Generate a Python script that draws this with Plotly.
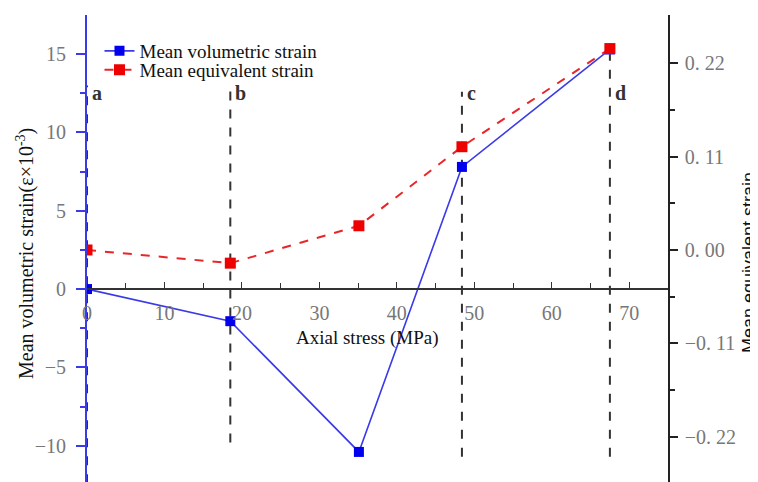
import plotly.graph_objects as go

# ---- data ----
axial_stress = [0, 18.5, 35.1, 48.4, 67.5]
mean_volumetric_strain = [0.0, -2.05, -10.4, 7.8, 15.3]
mean_equivalent_strain = [0.0, -0.0155, 0.0285, 0.1215, 0.237]

stage_labels = ["a", "b", "c", "d"]
stage_x = [0, 18.5, 48.4, 67.5]
stage_top = [13.0, 13.0, 12.6, 15.0]
stage_bottom = [-12.4, -9.8, -10.7, -10.7]
stage_label_y = 12.5

x_ticks = [0, 10, 20, 30, 40, 50, 60, 70]
left_ticks = [-10, -5, 0, 5, 10, 15]
right_ticks = [-0.22, -0.11, 0.0, 0.11, 0.22]
right_ticktext = ["\u22120. 22", "\u22120. 11", "0. 00", "0. 11", "0. 22"]

x_range = [0, 75]
left_range = [-12.32, 17.5]
right_range = [-0.273, 0.2765]

BLUE = "#3a3ae8"
RED = "#e8262a"
TICKFONT = dict(family="Liberation Serif", size=20, color="#777777")
SERIF = "Liberation Serif"

fig = go.Figure()

# stage dashed lines
for sx, top, bot in zip(stage_x, stage_top, stage_bottom):
    fig.add_shape(type="line", xref="x", yref="y", x0=sx, x1=sx, y0=bot, y1=top,
                  line=dict(color="#333333", width=2, dash="dash"), layer="below")
for lab, sx in zip(stage_labels, stage_x):
    fig.add_annotation(x=sx, y=stage_label_y, xref="x", yref="y", text=f"<b>{lab}</b>",
                       showarrow=False, xanchor="left", yanchor="middle", xshift=3,
                       font=dict(family=SERIF, size=20, color="#333333"))

fig.add_trace(go.Scatter(
    x=axial_stress, y=mean_volumetric_strain, name="Mean volumetric strain",
    mode="lines+markers", line=dict(color=BLUE, width=1.6),
    marker=dict(symbol="square", size=10, color="#0000ee"), yaxis="y", legend="legend"))
fig.add_trace(go.Scatter(
    x=axial_stress, y=mean_equivalent_strain, name="Mean equivalent strain",
    mode="lines+markers", line=dict(color=RED, width=2, dash="dash"),
    marker=dict(symbol="square", size=11, color="#ee0000"), yaxis="y2", legend="legend2"))

zero_pos = (0 - left_range[0]) / (left_range[1] - left_range[0])

LEGFONT = dict(family=SERIF, size=19, color="#111111")
fig.update_layout(
    width=750, height=474,
    margin=dict(l=79, r=90, t=7, b=0),
    paper_bgcolor="white", plot_bgcolor="white",
    showlegend=True,
    legend=dict(x=0.0215, y=0.9636, xanchor="left", yanchor="top",
                bgcolor="rgba(0,0,0,0)", font=LEGFONT, itemwidth=30),
    legend2=dict(x=0.0215, y=0.9229, xanchor="left", yanchor="top",
                 bgcolor="rgba(0,0,0,0)", font=LEGFONT, itemwidth=30),
    xaxis=dict(range=x_range, anchor="free", position=zero_pos,
               showline=True, linecolor="#333333", linewidth=1.5,
               tickvals=x_ticks, ticks="inside", ticklen=6, tickcolor="#333333",
               minor=dict(dtick=5, ticks="inside", ticklen=5, tickcolor="#333333"),
               tickfont=TICKFONT, ticklabelstandoff=6,
               showgrid=False, zeroline=False),
    yaxis=dict(range=left_range, showline=True, linecolor=BLUE, linewidth=2,
               tickvals=left_ticks, ticks="outside", ticklen=9, tickcolor=BLUE, tickwidth=2,
               minor=dict(tickvals=[-7.5, -2.5, 2.5, 7.5, 12.5], ticks="outside",
                          ticklen=5, tickcolor=BLUE, tickwidth=2),
               tickfont=TICKFONT, ticklabelstandoff=6,
               showgrid=False, zeroline=False),
    yaxis2=dict(range=right_range, overlaying="y", side="right", anchor="x",
                showline=True, linecolor="#222222", linewidth=1.5,
                tickvals=right_ticks, ticktext=right_ticktext,
                ticks="outside", ticklen=8, tickcolor="#222222", tickwidth=1.5,
                minor=dict(tickvals=[-0.165, -0.055, 0.055, 0.165], ticks="outside",
                           ticklen=5, tickcolor="#222222", tickwidth=1.5),
                tickfont=TICKFONT, ticklabelstandoff=3,
                showgrid=False, zeroline=False),
)

fig.add_annotation(xref="paper", yref="paper", x=(367 - 87) / 581, y=(482 - 338) / 467,
                   text="Axial stress (MPa)", showarrow=False, xanchor="center", yanchor="middle",
                   font=dict(family=SERIF, size=19, color="#111111"))
fig.add_annotation(xref="paper", yref="paper", x=(25 - 87) / 581, y=(482 - 254) / 467,
                   text="Mean volumetric strain(ε×10<sup>-3</sup>)", textangle=-90,
                   showarrow=False, xanchor="center", yanchor="middle",
                   font=dict(family=SERIF, size=20, color="#111111"))
fig.add_annotation(xref="paper", yref="paper", x=(749 - 87) / 581, y=(482 - 263) / 467,
                   text="Mean equivalent strain", textangle=-90,
                   showarrow=False, xanchor="center", yanchor="middle",
                   font=dict(family="Liberation Sans", size=18, color="#111111"))

fig.write_html("out.html")
